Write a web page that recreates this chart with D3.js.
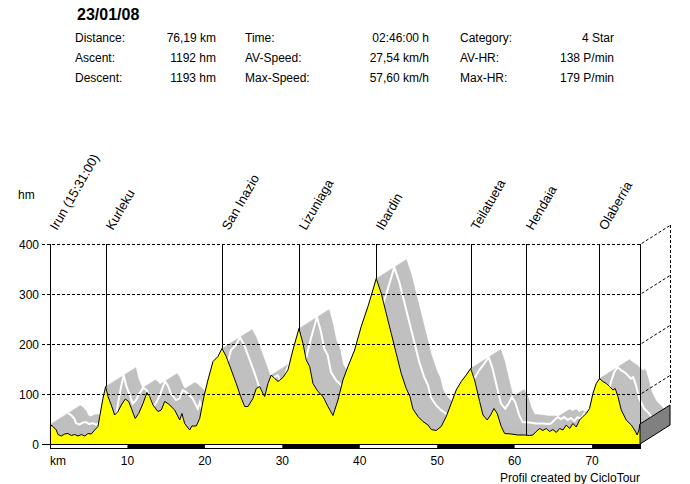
<!DOCTYPE html>
<html><head><meta charset="utf-8">
<script src="https://cdn.jsdelivr.net/npm/d3@7"></script>
<style>
html,body{margin:0;padding:0;background:#fff;}
svg{display:block;font-family:"Liberation Sans",Arial,sans-serif;}
</style></head>
<body>
<svg id="chart" width="690" height="484"></svg>
<script>
// ---- data ----
const tourDate = "23/01/08";
const col1Labels = ["Distance:", "Ascent:", "Descent:"];
const col1Values = ["76,19 km", "1192 hm", "1193 hm"];
const col2Labels = ["Time:", "AV-Speed:", "Max-Speed:"];
const col2Values = ["02:46:00 h", "27,54 km/h", "57,60 km/h"];
const col3Labels = ["Category:", "AV-HR:", "Max-HR:"];
const col3Values = ["4 Star", "138 P/min", "179 P/min"];

const distanceKm = [0,0.39,0.81,1.03,1.46,1.90,2.32,2.75,3.19,3.62,4.04,4.48,4.91,5.33,5.77,6.20,6.42,6.84,7.19,7.49,7.91,8.35,8.78,9.21,9.72,10.16,10.59,11.01,11.45,12.01,12.52,12.87,13.30,13.94,14.37,14.81,15.24,16.10,16.75,17.04,17.39,18.04,18.33,18.89,19.33,19.88,20.40,21.05,21.69,22.21,22.76,23.41,24.05,24.62,25.14,25.57,26.21,26.64,27.08,27.50,27.72,28.15,28.57,29.01,29.44,30.08,30.73,31.37,32.15,32.67,33.09,33.53,33.96,34.60,35.25,35.89,36.54,37.19,37.83,38.48,39.34,40.19,41.06,41.70,42.13,42.78,43.42,44.07,44.71,45.36,46.00,46.48,46.87,47.52,48.16,48.81,49.23,49.88,50.52,51.17,51.81,52.46,53.11,53.75,54.32,54.83,55.48,55.91,56.46,56.90,57.33,57.75,58.27,58.71,59.56,60.43,61.29,61.94,62.36,62.79,63.23,63.65,64.08,64.52,64.95,65.38,65.81,66.24,66.67,67.10,67.53,67.95,68.39,68.82,69.25,69.68,70.11,70.54,70.97,71.40,71.83,72.27,72.69,72.99,73.34,73.77,74.41,75.06,75.49,75.83,76.05,76.19];
const elevationHm = [39,35,28,19,16,20,21,17,19,16,19,16,21,20,28,35,55,91,115,95,78,58,65,78,90,85,68,51,61,81,103,95,78,65,68,85,81,68,48,61,41,28,36,36,51,95,128,165,175,191,175,148,121,95,75,75,91,111,115,101,95,121,138,131,125,133,148,188,231,201,168,155,121,105,95,75,57,88,128,155,188,235,275,308,331,301,261,221,181,141,111,95,70,55,45,38,29,27,35,55,81,108,125,138,151,128,85,58,48,58,71,61,35,21,20,18,18,17,18,25,31,27,31,25,29,23,31,28,38,31,41,34,48,55,61,71,101,121,131,125,121,115,108,111,95,68,48,38,28,18,28,40];

const waypointNames = ["Irun (15:31:00)", "Kurleku", "San Inazio", "Lizuniaga", "Ibardin", "Teilatueta", "Hendaia", "Olaberria"];
const waypointKm = [0, 7.19, 22.21, 32.1, 42.13, 54.32, 61.5, 70.9];

const yTicks = [0, 100, 200, 300, 400];
const xTicks = [10, 20, 30, 40, 50, 60, 70];
const stripBreaks = [0, 10, 20, 30, 40, 50, 60, 70, 76.19];
const totalKm = 76.19;

// ---- layout ----
const svg = d3.select("#chart");
const font = '"Liberation Sans", Arial, sans-serif';
const x = d3.scaleLinear().domain([0, totalKm]).range([50, 640]);
const y = d3.scaleLinear().domain([0, 400]).range([444, 244]);
const depth = {dx: 30, dy: -19};

const pts = distanceKm.map((d, i) => ({km: d, hm: elevationHm[i]}));
const area = d3.area().x(d => x(d.km)).y0(y(0)).y1(d => y(d.hm));
const line = d3.line().x(d => x(d.km)).y(d => y(d.hm));

function elevAt(k) {
  const i = d3.bisector(d => d.km).left(pts, k);
  if (i <= 0) return pts[0].hm;
  if (i >= pts.length) return pts[pts.length - 1].hm;
  const a = pts[i - 1], b = pts[i];
  return a.hm + (b.hm - a.hm) * (k - a.km) / (b.km - a.km);
}

// 3D sweep (grey)
const sweep = svg.append("g");
const steps = 40;
for (let s = 0; s <= steps; s++) {
  const t = s / steps;
  sweep.append("path").attr("d", area(pts))
    .attr("transform", `translate(${depth.dx * t},${depth.dy * t})`)
    .attr("fill", "#c0c0c0").attr("stroke", "#c0c0c0").attr("stroke-width", 0.6);
}
// white centre line on the road surface
svg.append("path").attr("d", line(pts))
  .attr("transform", `translate(${depth.dx * 0.6},${depth.dy * 0.6})`)
  .attr("fill", "none").attr("stroke", "#fff").attr("stroke-width", 2);

// profile
svg.append("path").attr("d", area(pts)).attr("fill", "#ffff00");
svg.append("path").attr("d", line(pts)).attr("fill", "none").attr("stroke", "#000").attr("stroke-width", 1);

// end cap
const endX = x(totalKm), endY = y(pts[pts.length - 1].hm);
svg.append("path")
  .attr("d", `M${endX},${y(0)}L${endX},${endY}L${endX + depth.dx},${endY + depth.dy}L${endX + depth.dx},${y(0) + depth.dy}Z`)
  .attr("fill", "#808080").attr("stroke", "#000").attr("stroke-width", 1);

// grid
const grid = svg.append("g").attr("stroke", "#000").attr("stroke-dasharray", "3,2").attr("fill", "none").attr("stroke-width", 1);
yTicks.filter(v => v > 0).forEach(v => {
  grid.append("path").attr("d", `M42,${y(v) + 0.5}H${endX}L${endX + depth.dx},${y(v) + 0.5 + depth.dy}`);
});
grid.append("path").attr("d", `M${endX + depth.dx + 0.5},${y(400) + depth.dy}V${endY + depth.dy}`);

// axes lines
svg.append("path").attr("d", `M50.5,${y(400)}V${y(0)}`).attr("stroke", "#000");
svg.append("path").attr("d", `M${endX + 0.5},${y(400)}V${endY}`).attr("stroke", "#000");
svg.append("path").attr("d", `M42,${y(0) + 0.5}H50`).attr("stroke", "#000");

// waypoint lines
waypointKm.forEach(k => {
  if (k === 0) return;
  svg.append("path").attr("d", `M${Math.round(x(k)) + 0.5},${y(400)}V${y(elevAt(k))}`).attr("stroke", "#000");
});

// distance strip
svg.append("rect").attr("x", 50.5).attr("y", 444.5).attr("width", endX - 50).attr("height", 4)
  .attr("fill", "#fff").attr("stroke", "#000");
for (let i = 0; i < stripBreaks.length - 1; i++) {
  if (i % 2 === 1) {
    svg.append("rect").attr("x", x(stripBreaks[i])).attr("y", 444).attr("width", x(stripBreaks[i + 1]) - x(stripBreaks[i])).attr("height", 5).attr("fill", "#000");
  }
}

// tick labels
const txt = svg.append("g").attr("font-family", font).attr("font-size", 12).attr("fill", "#000");
yTicks.forEach(v => {
  txt.append("text").attr("x", 39).attr("y", y(v) + 4.5).attr("text-anchor", "end").text(v);
});
xTicks.forEach(v => {
  txt.append("text").attr("x", x(v)).attr("y", 465).attr("text-anchor", "middle").text(v);
});
txt.append("text").attr("x", 50).attr("y", 465).text("km");
txt.append("text").attr("x", 18).attr("y", 199).text("hm");
txt.append("text").attr("x", 640).attr("y", 482).attr("text-anchor", "end").text("Profil created by CicloTour");

// waypoint names
waypointKm.forEach((k, i) => {
  const px = Math.round(x(k)) + 7;
  txt.append("text").attr("transform", `translate(${px},231) rotate(-60)`)
    .attr("font-size", 13).text(waypointNames[i]);
});

// header
svg.append("text").attr("x", 77).attr("y", 20).attr("font-family", font).attr("font-size", 16).attr("font-weight", "bold").text(tourDate);
const cols = [
  {labels: col1Labels, values: col1Values, lx: 75, vx: 216},
  {labels: col2Labels, values: col2Values, lx: 245, vx: 429},
  {labels: col3Labels, values: col3Values, lx: 460, vx: 614}
];
cols.forEach(c => {
  c.labels.forEach((l, i) => {
    txt.append("text").attr("x", c.lx).attr("y", 42 + i * 20).text(l);
    txt.append("text").attr("x", c.vx).attr("y", 42 + i * 20).attr("text-anchor", "end").text(c.values[i]);
  });
});
</script>
</body></html>
